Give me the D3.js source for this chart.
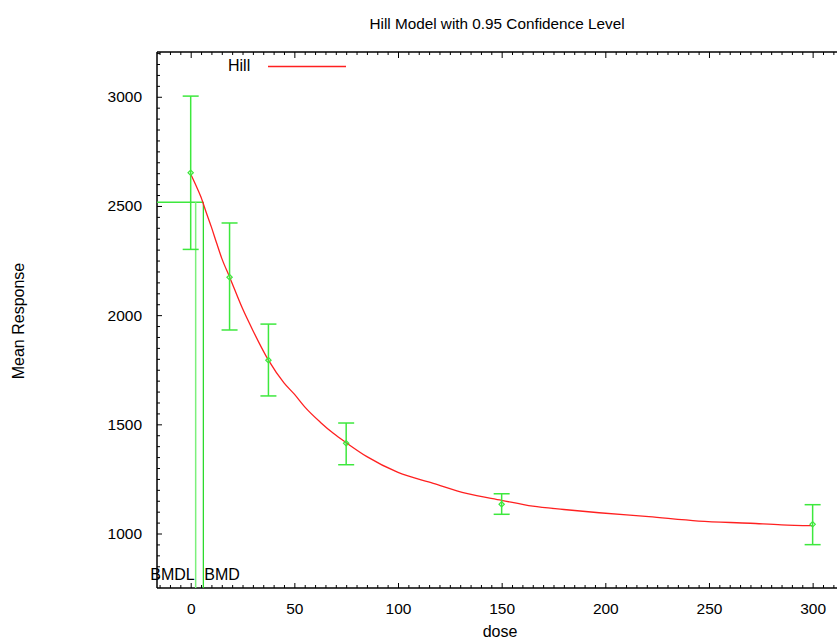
<!DOCTYPE html>
<html>
<head>
<meta charset="utf-8">
<script src="https://cdn.jsdelivr.net/npm/d3@7"></script>
<style>
  body { margin: 0; background: #fff; }
  svg { display: block; font-family: "Liberation Sans", Arial, Helvetica, sans-serif; }
  .axis path { display: none; }
  .axis line { stroke: #000; }
  .axis text { font-size: 15.5px; fill: #000; }
</style>
</head>
<body>
<script>
// Observed data (dose groups, means and confidence limits)
var doses = [0, 18.75, 37.5, 75, 150, 300],
    means = [2652, 2174, 1794, 1413, 1134, 1042],
    upper = [3003, 2422, 1959, 1506, 1182, 1132],
    lower = [2301, 1932, 1630, 1315, 1088, 949];

// Fitted Hill curve
var fitDose = [0, 2.5, 5, 7.5, 10, 12.5, 15, 18.75, 25, 30, 37.5, 45, 50, 55, 62.5, 68.8, 75, 85, 100, 117, 133, 150, 165, 180, 197, 221, 245, 270, 285, 300],
    fitResp = [2646, 2595, 2540, 2470, 2403, 2330, 2260, 2175, 2030, 1930, 1794, 1690, 1638, 1580, 1510, 1459, 1416, 1352, 1280, 1230, 1184, 1152, 1125, 1110, 1095, 1077, 1057, 1047, 1040, 1036];

// Benchmark dose markers
var bmdl = 2.4, bmd = 6.1, bmr = 2517;

// Tick values
var xTicks = [0, 50, 100, 150, 200, 250, 300],
    yTicks = [1000, 1500, 2000, 2500, 3000];

var W = 837, H = 641;
var plot = {left: 157, right: 840, top: 52, bottom: 588};

var svg = d3.select('body').append('svg')
  .attr('width', W)
  .attr('height', H);

var x = d3.scaleLinear().domain([-16.25, 313.2]).range([plot.left, plot.right]);
var y = d3.scaleLinear().domain([750.5, 3205]).range([plot.bottom, plot.top]);

var green = '#3de83d';

// Frame
svg.append('line')
  .attr('x1', plot.left).attr('x2', plot.left)
  .attr('y1', plot.top).attr('y2', plot.bottom)
  .attr('stroke', '#000').attr('stroke-width', 1.5);
svg.append('line')
  .attr('x1', plot.left).attr('x2', plot.right)
  .attr('y1', plot.top).attr('y2', plot.top)
  .attr('stroke', '#000').attr('stroke-width', 1.5);
svg.append('line')
  .attr('x1', plot.left).attr('x2', plot.right)
  .attr('y1', plot.bottom).attr('y2', plot.bottom)
  .attr('stroke', '#000').attr('stroke-width', 1.5);

// Minor ticks
var xMinor = d3.range(-15, 315, 5).filter(function(d) { return d % 50 !== 0; });
var yMinor = d3.range(800, 3201, 50).filter(function(d) { return d % 500 !== 0; });

svg.append('g').attr('class', 'axis')
  .attr('transform', 'translate(0,' + plot.bottom + ')')
  .call(d3.axisBottom(x).tickValues(xMinor).tickSizeInner(-3).tickSizeOuter(0).tickFormat(''));
svg.append('g').attr('class', 'axis')
  .attr('transform', 'translate(0,' + plot.top + ')')
  .call(d3.axisTop(x).tickValues(xMinor).tickSizeInner(-3).tickSizeOuter(0).tickFormat(''));
svg.append('g').attr('class', 'axis')
  .attr('transform', 'translate(' + plot.left + ',0)')
  .call(d3.axisLeft(y).tickValues(yMinor).tickSizeInner(-3).tickSizeOuter(0).tickFormat(''));

// Major ticks with labels
svg.append('g').attr('class', 'axis')
  .attr('transform', 'translate(0,' + plot.bottom + ')')
  .call(d3.axisBottom(x).tickValues(xTicks).tickSizeInner(-5).tickSizeOuter(0)
    .tickPadding(15).tickFormat(d3.format('d')));
svg.append('g').attr('class', 'axis')
  .attr('transform', 'translate(0,' + plot.top + ')')
  .call(d3.axisTop(x).tickValues(xTicks).tickSizeInner(-6).tickSizeOuter(0).tickFormat(''));
svg.append('g').attr('class', 'axis')
  .attr('transform', 'translate(' + plot.left + ',0)')
  .call(d3.axisLeft(y).tickValues(yTicks).tickSizeInner(-5).tickSizeOuter(0)
    .tickPadding(15).tickFormat(d3.format('d')));

// BMD / BMDL lines
svg.append('line')
  .attr('x1', plot.left).attr('x2', x(bmd))
  .attr('y1', y(bmr)).attr('y2', y(bmr))
  .attr('stroke', green).attr('stroke-width', 1.5);
svg.append('line')
  .attr('x1', x(bmdl)).attr('x2', x(bmdl))
  .attr('y1', y(bmr)).attr('y2', plot.bottom)
  .attr('stroke', '#7cf07c').attr('stroke-width', 1.5);
svg.append('line')
  .attr('x1', x(bmd)).attr('x2', x(bmd))
  .attr('y1', y(bmr)).attr('y2', plot.bottom)
  .attr('stroke', '#1ed81e').attr('stroke-width', 1.2);

svg.append('text')
  .attr('x', x(bmdl) - 1).attr('y', 580)
  .attr('text-anchor', 'end')
  .attr('font-size', 16)
  .text('BMDL');
svg.append('text')
  .attr('x', x(bmd) + 1).attr('y', 580)
  .attr('font-size', 16)
  .text('BMD');

// Fitted curve
var line = d3.line()
  .x(function(d, i) { return x(fitDose[i]); })
  .y(function(d) { return y(d); })
  .curve(d3.curveMonotoneX);

svg.append('path')
  .datum(fitResp)
  .attr('d', line)
  .attr('fill', 'none')
  .attr('stroke', '#ff2020')
  .attr('stroke-width', 1.3);

// Error bars
var bars = svg.append('g').selectAll('g')
  .data(doses)
  .enter().append('g');

bars.append('line')
  .attr('x1', function(d) { return x(d); })
  .attr('x2', function(d) { return x(d); })
  .attr('y1', function(d, i) { return y(upper[i]); })
  .attr('y2', function(d, i) { return y(lower[i]); })
  .attr('stroke', green).attr('stroke-width', 1.5);
bars.append('line')
  .attr('x1', function(d) { return x(d) - 8; })
  .attr('x2', function(d) { return x(d) + 8; })
  .attr('y1', function(d, i) { return y(upper[i]); })
  .attr('y2', function(d, i) { return y(upper[i]); })
  .attr('stroke', green).attr('stroke-width', 1.5);
bars.append('line')
  .attr('x1', function(d) { return x(d) - 8; })
  .attr('x2', function(d) { return x(d) + 8; })
  .attr('y1', function(d, i) { return y(lower[i]); })
  .attr('y2', function(d, i) { return y(lower[i]); })
  .attr('stroke', green).attr('stroke-width', 1.5);

// Mean markers (small diamonds)
bars.append('path')
  .attr('d', d3.symbol().type(d3.symbolDiamond2).size(18))
  .attr('transform', function(d, i) { return 'translate(' + x(d) + ',' + y(means[i]) + ')'; })
  .attr('fill', 'none')
  .attr('stroke', green)
  .attr('stroke-width', 1.2);

// Legend
svg.append('text')
  .attr('x', 228).attr('y', 71)
  .attr('font-size', 16)
  .text('Hill');
svg.append('line')
  .attr('x1', 268).attr('x2', 346)
  .attr('y1', 66.5).attr('y2', 66.5)
  .attr('stroke', '#ff2020').attr('stroke-width', 1.3);

// Title and axis titles
svg.append('text')
  .attr('x', 497).attr('y', 29)
  .attr('text-anchor', 'middle')
  .attr('font-size', 15.3)
  .text('Hill Model with 0.95 Confidence Level');

svg.append('text')
  .attr('x', 500).attr('y', 637)
  .attr('text-anchor', 'middle')
  .attr('font-size', 16)
  .text('dose');

svg.append('text')
  .attr('transform', 'translate(24,321) rotate(-90)')
  .attr('text-anchor', 'middle')
  .attr('font-size', 16)
  .text('Mean Response');
</script>
</body>
</html>
